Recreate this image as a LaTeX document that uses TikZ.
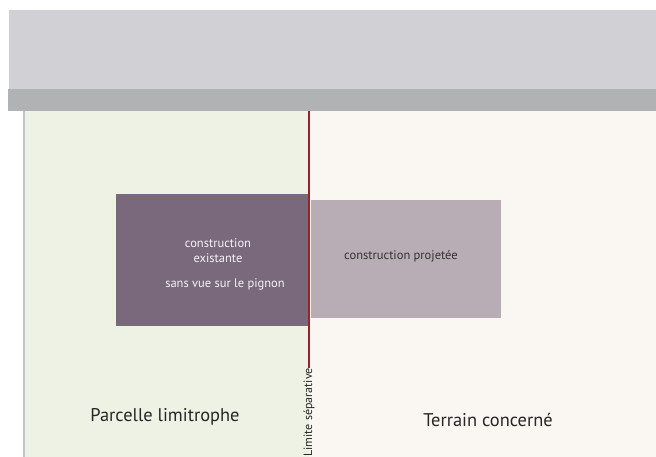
\documentclass[tikz,border=0pt]{standalone}
\usepackage{fontspec}
\setmainfont{PT Sans}
\definecolor{topgray}{HTML}{D1D1D5}
\definecolor{bandgray}{HTML}{B0B2B4}
\definecolor{leftbg}{HTML}{EEF2E4}
\definecolor{rightbg}{HTML}{FAF6F2}
\definecolor{existbox}{HTML}{7A687D}
\definecolor{projbox}{HTML}{B8ADB4}
\definecolor{limred}{HTML}{9A2228}
\definecolor{edgegray}{HTML}{C4C4C4}
\tikzset{
  area/.style={draw=none, inner sep=0pt, outer sep=0pt},
  boxtext/.style={font=\fontsize{12.5}{15}\selectfont, align=center, inner sep=0pt},
  bigtext/.style={font=\fontsize{18.4}{22}\selectfont, text=black!85, inner sep=0pt}
}
\begin{document}
\begin{tikzpicture}[x=1pt,y=-1pt]
\useasboundingbox (0,0) rectangle (656,457);
\fill[white] (0,0) rectangle (656,457);
% top bands
\fill[topgray] (9,10) rectangle (656,89);
\fill[bandgray] (8,89) rectangle (656,111);
% parcels
\fill[leftbg] (24,111) rectangle (309,457);
\fill[rightbg] (309,111) rectangle (656,457);
\draw[edgegray, line width=1.2pt] (24,111) -- (24,457);
% buildings
\node[area, fill=existbox, minimum width=193pt, minimum height=132pt, anchor=north west] (exist) at (116,194) {};
\node[area, fill=projbox, minimum width=190pt, minimum height=118pt, anchor=north west] (proj) at (311,200) {};
\node[boxtext, text=white!92!existbox] (t1) at (218,250.5) {construction\\existante};
\node[boxtext, text=white!92!existbox] (t2) at (225,284) {sans vue sur le pignon};
\node[boxtext, text=black!80] (t3) at (401,256) {construction projetée};
% limit
\node[font=\fontsize{12}{14}\selectfont, rotate=90, anchor=east, inner sep=0pt, text=black!85] (lim) at (309,368) {Limite séparative};
\coordinate (limtop) at (309,111);
\draw[limred, line width=1.5pt] (limtop) -- (lim.east);
% labels
\node[bigtext] (pl) at (165,417) {Parcelle limitrophe};
\node[bigtext] (tc) at (488,420) {Terrain concerné};
\end{tikzpicture}
\end{document}
